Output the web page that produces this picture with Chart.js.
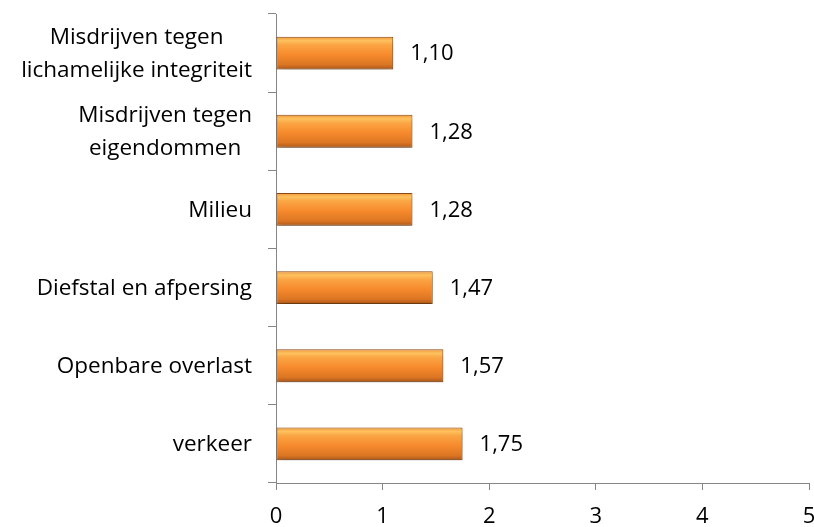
<!DOCTYPE html>
<html>
<head>
<meta charset="utf-8">
<script src="https://cdn.jsdelivr.net/npm/chart.js"></script>
<style>
  html, body { margin: 0; padding: 0; background: #fff; }
  #wrap { width: 814px; height: 527px; }
</style>
</head>
<body>
<div id="wrap"><canvas id="chart" width="814" height="527"></canvas></div>
<script>
// ---- data ----
const categories = [
  ['Misdrijven tegen', 'lichamelijke integriteit'],
  ['Misdrijven tegen', 'eigendommen'],
  'Milieu',
  'Diefstal en afpersing',
  'Openbare overlast',
  'verkeer'
];
const scores = [1.10, 1.28, 1.28, 1.47, 1.57, 1.75];
const xTicks = [0, 1, 2, 3, 4, 5];

const FONT = '"Open Sans", sans-serif';
const CAT_SIZE = 22.5;
const NUM_SIZE = 22;
const LINE_H = 33;
const AXIS = '#868686';
const BAR_PCT = 0.42;

function fmt(v) { return v.toFixed(2).replace('.', ','); }

// vertical gradient per bar, worked out from the y scale
function barFill(ctx) {
  const chart = ctx.chart;
  const y = chart.scales.y;
  if (!y || !chart.chartArea) return '#f79646';
  const cy = y.getPixelForValue(ctx.dataIndex);
  const half = (y.height / categories.length) * BAR_PCT / 2;
  const g = chart.ctx.createLinearGradient(0, cy - half, 0, cy + half);
  g.addColorStop(0, '#f0953a');
  g.addColorStop(0.12, '#fdc25e');
  g.addColorStop(0.25, '#fba544');
  g.addColorStop(0.55, '#f68a2c');
  g.addColorStop(0.85, '#dc7623');
  g.addColorStop(1, '#a9561a');
  return g;
}

// value labels right of the bars
const valueLabels = {
  id: 'valueLabels',
  afterDatasetsDraw(chart) {
    const c = chart.ctx;
    const meta = chart.getDatasetMeta(0);
    c.save();
    c.font = NUM_SIZE + 'px ' + FONT;
    c.fillStyle = '#000';
    c.textAlign = 'left';
    c.textBaseline = 'middle';
    meta.data.forEach((bar, i) => {
      c.fillText(fmt(scores[i]), bar.x + 17, bar.y + 1);
    });
    c.restore();
  }
};

// category labels: each block centred, block right aligned against the axis
const catLabels = {
  id: 'catLabels',
  afterDraw(chart) {
    const c = chart.ctx;
    const y = chart.scales.y;
    const right = y.right - 24;
    c.save();
    c.font = CAT_SIZE + 'px ' + FONT;
    c.fillStyle = '#000';
    c.textBaseline = 'middle';
    c.textAlign = 'center';
    categories.forEach((lab, i) => {
      const lines = Array.isArray(lab) ? lab : [lab];
      const w = Math.max(...lines.map(l => c.measureText(l).width));
      const cx = right - w / 2;
      const cy = y.getPixelForValue(i);
      const top = cy - (lines.length - 1) * LINE_H / 2;
      lines.forEach((l, k) => c.fillText(l, cx, top + k * LINE_H + 1));
    });
    c.restore();
  }
};

// soft shadow under the bars
const barShadow = {
  id: 'barShadow',
  beforeDatasetDraw(chart) {
    const c = chart.ctx;
    c.save();
    c.shadowColor = 'rgba(0,0,0,0.28)';
    c.shadowBlur = 5;
    c.shadowOffsetX = 1;
    c.shadowOffsetY = 3;
  },
  afterDatasetDraw(chart) { chart.ctx.restore(); }
};

new Chart(document.getElementById('chart'), {
  type: 'bar',
  data: {
    labels: categories,
    datasets: [{
      data: scores,
      backgroundColor: barFill,
      borderColor: '#8f4a12',
      borderWidth: 1,
      borderSkipped: false,
      barPercentage: BAR_PCT,
      categoryPercentage: 1
    }]
  },
  options: {
    indexAxis: 'y',
    responsive: false,
    animation: false,
    layout: { padding: { top: 14, right: 5, left: 0, bottom: 0 } },
    plugins: { legend: { display: false }, tooltip: { enabled: false } },
    scales: {
      x: {
        min: 0, max: 5,
        afterBuildTicks(s) { s.ticks = xTicks.map(v => ({ value: v })); },
        afterFit(s) { s.height = 44; s.paddingLeft = 0; s.paddingRight = 0; },
        border: { color: AXIS, width: 1 },
        grid: { drawOnChartArea: false, color: AXIS, tickLength: 7 },
        ticks: { color: '#000', font: { family: FONT, size: NUM_SIZE }, padding: 14, maxRotation: 0 }
      },
      y: {
        afterFit(s) { s.width = 276; },
        border: { color: AXIS, width: 1 },
        grid: { drawOnChartArea: false, color: AXIS, tickLength: 8, offset: true },
        ticks: { display: false }
      }
    }
  },
  plugins: [barShadow, valueLabels, catLabels]
});
</script>
</body>
</html>
